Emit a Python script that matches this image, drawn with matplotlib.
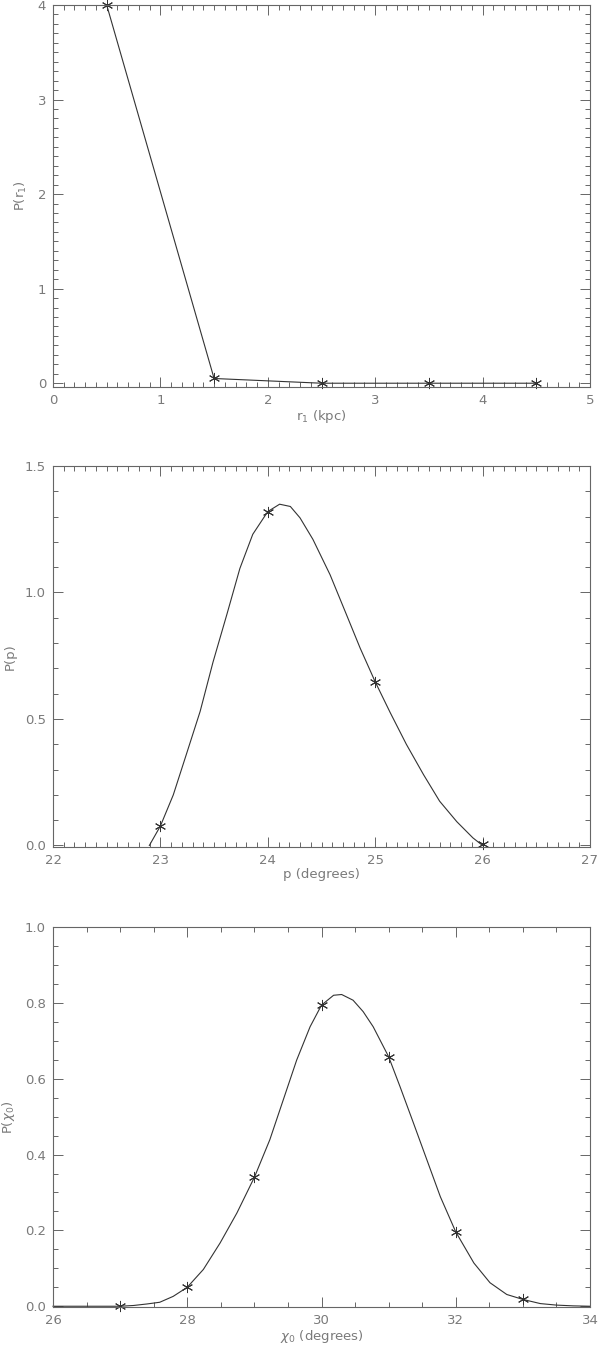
import numpy as np
import matplotlib
matplotlib.use("Agg")
import matplotlib.pyplot as plt
from matplotlib.ticker import MultipleLocator, FormatStrFormatter

# panel 1: P(r1), points joined by straight lines
r1_x = [0.5, 1.5, 2.5, 3.5, 4.5]
r1_y = [4.0, 0.05, 0.0, 0.0, 0.0]

p_x = [23, 24, 25, 26]
p_y = [0.077, 1.32, 0.647, 0.005]
p_curve_x = [22.897, 23.0, 23.12, 23.24, 23.37, 23.49, 23.62, 23.74, 23.86, 24.0,
             24.11, 24.21, 24.30, 24.42, 24.58, 24.73, 24.86, 25.0, 25.14, 25.29,
             25.45, 25.60, 25.76, 25.91, 26.0]
p_curve_y = [0.0, 0.077, 0.20, 0.358, 0.53, 0.725, 0.915, 1.095, 1.23, 1.32,
             1.349, 1.34, 1.295, 1.21, 1.07, 0.915, 0.78, 0.647, 0.525, 0.40,
             0.28, 0.175, 0.094, 0.03, 0.0]

# panel 3: P(chi0)
chi_x = [27, 28, 29, 30, 31, 32, 33]
chi_y = [0.0, 0.05, 0.34, 0.794, 0.658, 0.196, 0.018]
chi_curve_x = [26.0, 26.5, 27.0, 27.2, 27.4, 27.59, 27.79, 28.0, 28.24, 28.49,
               28.74, 29.0, 29.23, 29.43, 29.63, 29.83, 30.0, 30.18, 30.30, 30.47,
               30.62, 30.77, 31.0, 31.17, 31.37, 31.57, 31.77, 32.0, 32.27, 32.51,
               32.76, 33.0, 33.26, 33.50, 33.75, 34.0]
chi_curve_y = [0.0, 0.0, 0.0, 0.002, 0.006, 0.0105, 0.026, 0.05, 0.097, 0.167,
               0.246, 0.34, 0.439, 0.544, 0.649, 0.737, 0.794, 0.82, 0.822, 0.807,
               0.777, 0.737, 0.658, 0.579, 0.483, 0.386, 0.289, 0.196, 0.114, 0.062,
               0.031, 0.018, 0.007, 0.003, 0.001, 0.0]

axis_col = "#666666"
text_col = "#7a7a7a"
line_col = "#333333"
ast = (6, 2, 0)

plt.rcParams['font.family'] = ['DejaVu Sans']

fig = plt.figure(figsize=(6, 13.5), dpi=100)
W, H = 600.0, 1350.0

def make_axes(top, bottom):
    return fig.add_axes([53 / W, 1 - bottom / H, 537 / W, (bottom - top) / H])

def style(ax, xmaj, xmin, ymaj, ymin, yfmt):
    ax.xaxis.set_major_locator(MultipleLocator(xmaj))
    ax.xaxis.set_minor_locator(MultipleLocator(xmin))
    ax.yaxis.set_major_locator(MultipleLocator(ymaj))
    ax.yaxis.set_minor_locator(MultipleLocator(ymin))
    ax.yaxis.set_major_formatter(FormatStrFormatter(yfmt))
    ax.tick_params(which='both', direction='in', top=True, right=True,
                   color=axis_col, labelcolor=text_col, labelsize=9.5, width=0.7)
    ax.tick_params(which='major', length=7, pad=5)
    ax.tick_params(which='minor', length=3.5)
    for s in ax.spines.values():
        s.set_color(axis_col)
        s.set_linewidth(0.8)

# panel 1
ax1 = make_axes(5, 387)
ax1.plot(r1_x, r1_y, color=line_col, lw=0.8, marker=ast, ms=8, mew=0.7,
         mec=line_col, clip_on=False)
ax1.set_xlim(0, 5)
ax1.set_ylim(-0.04, 4.0)
style(ax1, 1, 0.1, 1, 0.1, '%d')
ax1.set_xlabel('r$_1$ (kpc)', color=text_col, fontsize=9.5, labelpad=1)
ax1.set_ylabel('P(r$_1$)', color=text_col, fontsize=9.5, labelpad=6)

# panel 2
ax2 = make_axes(466, 847)
ax2.plot(p_curve_x, p_curve_y, color=line_col, lw=0.8, clip_on=False)
ax2.plot(p_x, p_y, ls='none', marker=ast, ms=8, mew=0.7, mec=line_col, clip_on=False)
ax2.set_xlim(22, 27)
ax2.set_ylim(-0.006, 1.5)
style(ax2, 1, 0.1, 0.5, 0.1, '%.1f')
ax2.set_xlabel('p (degrees)', color=text_col, fontsize=9.5, labelpad=1)
ax2.set_ylabel('P(p)', color=text_col, fontsize=9.5, labelpad=6)

# panel 3
ax3 = make_axes(927, 1307)
ax3.plot(chi_curve_x, chi_curve_y, color=line_col, lw=0.8, clip_on=False)
ax3.plot(chi_x, chi_y, ls='none', marker=ast, ms=8, mew=0.7, mec=line_col, clip_on=False)
ax3.set_xlim(26, 34)
ax3.set_ylim(-0.002, 1.0)
style(ax3, 2, 0.5, 0.2, 0.05, '%.1f')
ax3.set_xlabel(r'$\chi_0$ (degrees)', color=text_col, fontsize=9.5, labelpad=1)
ax3.set_ylabel(r'P($\chi_0$)', color=text_col, fontsize=9.5, labelpad=6)

fig.savefig('out.png', dpi=100)
